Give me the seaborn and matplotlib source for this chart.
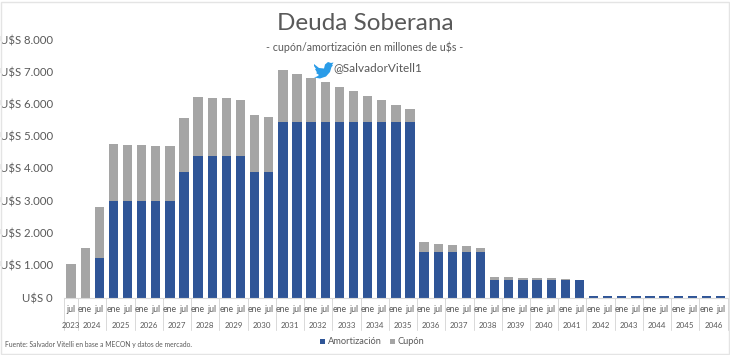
import matplotlib
matplotlib.use("Agg")
import matplotlib.pyplot as plt
from matplotlib.lines import Line2D
from matplotlib.patches import Polygon, Rectangle
import numpy as np
import pandas as pd
import seaborn as sns

sns.set_theme(style="white")
plt.rcParams['font.family'] = ['Lato', 'DejaVu Sans']

years = ["2023", "2024"] + [str(y) for y in range(2025, 2047)]
months = ["jul", "ene", "jul"] + ["ene", "jul"] * 22
bar_years = ["2023", "2024", "2024"] + [str(y) for y in range(2025, 2047) for _ in range(2)]
bar_keys = [f"{y} {m}" for y, m in zip(bar_years, months)]

amortizacion = [0, 0, 1230,
    3000, 3000, 3000, 3000, 3000, 3900,
    4400, 4400, 4400, 4400, 3900, 3900,
    5430, 5430, 5430, 5430, 5430, 5430, 5430, 5430, 5430, 5430,
    1420, 1420, 1420, 1420, 1420, 540,
    540, 540, 540, 540, 540, 540,
    50, 50, 50, 50, 50, 50, 50, 50, 50, 50]
cupon = [1030, 1540, 1570,
    1750, 1730, 1720, 1700, 1690, 1680,
    1830, 1780, 1780, 1730, 1750, 1700,
    1630, 1500, 1370, 1240, 1090, 960, 820, 690, 550, 420,
    290, 240, 205, 170, 130, 95,
    85, 70, 60, 50, 20, 10,
    10, 10, 10, 10, 10, 10, 10, 10, 10, 10]
y_ticks = [0, 1000, 2000, 3000, 4000, 5000, 6000, 7000, 8000]
y_labels = ["U$S 0", "U$S 1.000", "U$S 2.000", "U$S 3.000", "U$S 4.000",
            "U$S 5.000", "U$S 6.000", "U$S 7.000", "U$S 8.000"]

BLUE, GREY, TXT, LINE = "#2F5597", "#A5A5A5", "#595959", "#D9D9D9"
W, H = 730, 355
df = pd.DataFrame({"periodo": bar_keys, "amortizacion": amortizacion, "cupon": cupon})

fig = plt.figure(figsize=(W / 100, H / 100), dpi=100, facecolor="white")
ax = fig.add_axes([64 / W, 1 - 297.5 / H, (727.7 - 64) / W, (297.5 - 39.5) / H])

sns.barplot(data=df, x="periodo", y="amortizacion", color=BLUE, saturation=1,
            width=0.66, ax=ax, errorbar=None, linewidth=0)
sns.barplot(data=df, x="periodo", y="cupon", color=GREY, saturation=1,
            width=0.66, ax=ax, errorbar=None, linewidth=0,
            bottom=df["amortizacion"].to_numpy())

ax.set_xlim(-0.5, len(bar_keys) - 0.5)
ax.set_ylim(0, 8000)
ax.set_xlabel("")
ax.set_ylabel("")
ax.set_yticks(y_ticks, y_labels, fontsize=8.2, color=TXT)
ax.tick_params(axis="y", length=0, pad=8)
ax.set_xticks([])
for s in ["top", "right", "left"]:
    ax.spines[s].set_visible(False)
ax.spines["bottom"].set_color(LINE)
ax.spines["bottom"].set_linewidth(0.8)

# multi-level category axis
xt = ax.get_xaxis_transform()
def axis_y(py):
    return (297.5 - py) / (297.5 - 39.5)
for i, m in enumerate(months):
    ax.text(i, axis_y(309), m, transform=xt, ha="center", va="center",
            fontsize=6.2, color=TXT, clip_on=False)
pos = 0
edges = [-0.5]
for y in years:
    n = bar_years.count(y)
    ax.text(pos + (n - 1) / 2, axis_y(325), y, transform=xt, ha="center", va="center",
            fontsize=5.7, color=TXT, clip_on=False)
    pos += n
    edges.append(pos - 0.5)
for e in edges:
    ax.add_line(Line2D([e, e], [axis_y(297.5), axis_y(330)], transform=xt, color=LINE,
                       lw=0.7, clip_on=False))

def T(x, y, s, size, **kw):
    fig.text(x / W, 1 - y / H, s, fontsize=size, color=kw.pop("color", TXT),
             va="center", **kw)

T(365, 24, "Deuda Soberana", 17.5, ha="center")
T(365, 47, "- cupón/amortización en millones de u$s -", 7.7, ha="center")
T(333.5, 68, "@SalvadorVitell1", 8.5, ha="left")
T(5, 344.5, "Fuente: Salvador Vitelli en base a MECON y datos de mercado.", 4.9, ha="left")
T(328, 341, "Amortización", 6.7, ha="left")
T(398, 341, "Cupón", 6.7, ha="left")

tf = fig.transFigure
def to_fig(pts):
    return [(x / W, 1 - y / H) for x, y in pts]
fig.add_artist(Rectangle((320 / W, 1 - 344 / H), 5 / W, 5 / H, transform=tf, color=BLUE, lw=0))
fig.add_artist(Rectangle((390 / W, 1 - 344 / H), 5 / W, 5 / H, transform=tf, color=GREY, lw=0))

# bird icon
bird = [(314, 64), (319, 68), (324, 68.5), (325, 64.5), (328, 62), (331, 63), (333.5, 62.5),
        (332, 65), (333, 65.5), (331.5, 67), (330, 72), (326, 76.5), (320, 78.5), (314, 77.5),
        (317, 76.5), (319, 75), (316, 73), (317, 72.5), (315, 69), (316, 69), (314, 66)]
fig.add_artist(Polygon(to_fig(bird), closed=True, transform=tf, color="#2A9CE8", lw=0))

# picture frame
fig.add_artist(Rectangle((1 / W, 1 / H), 727.5 / W, 352.5 / H, transform=tf, fill=False,
                         edgecolor="#E4E4E4", lw=1))

fig.savefig("out.png", dpi=100, facecolor="white")
